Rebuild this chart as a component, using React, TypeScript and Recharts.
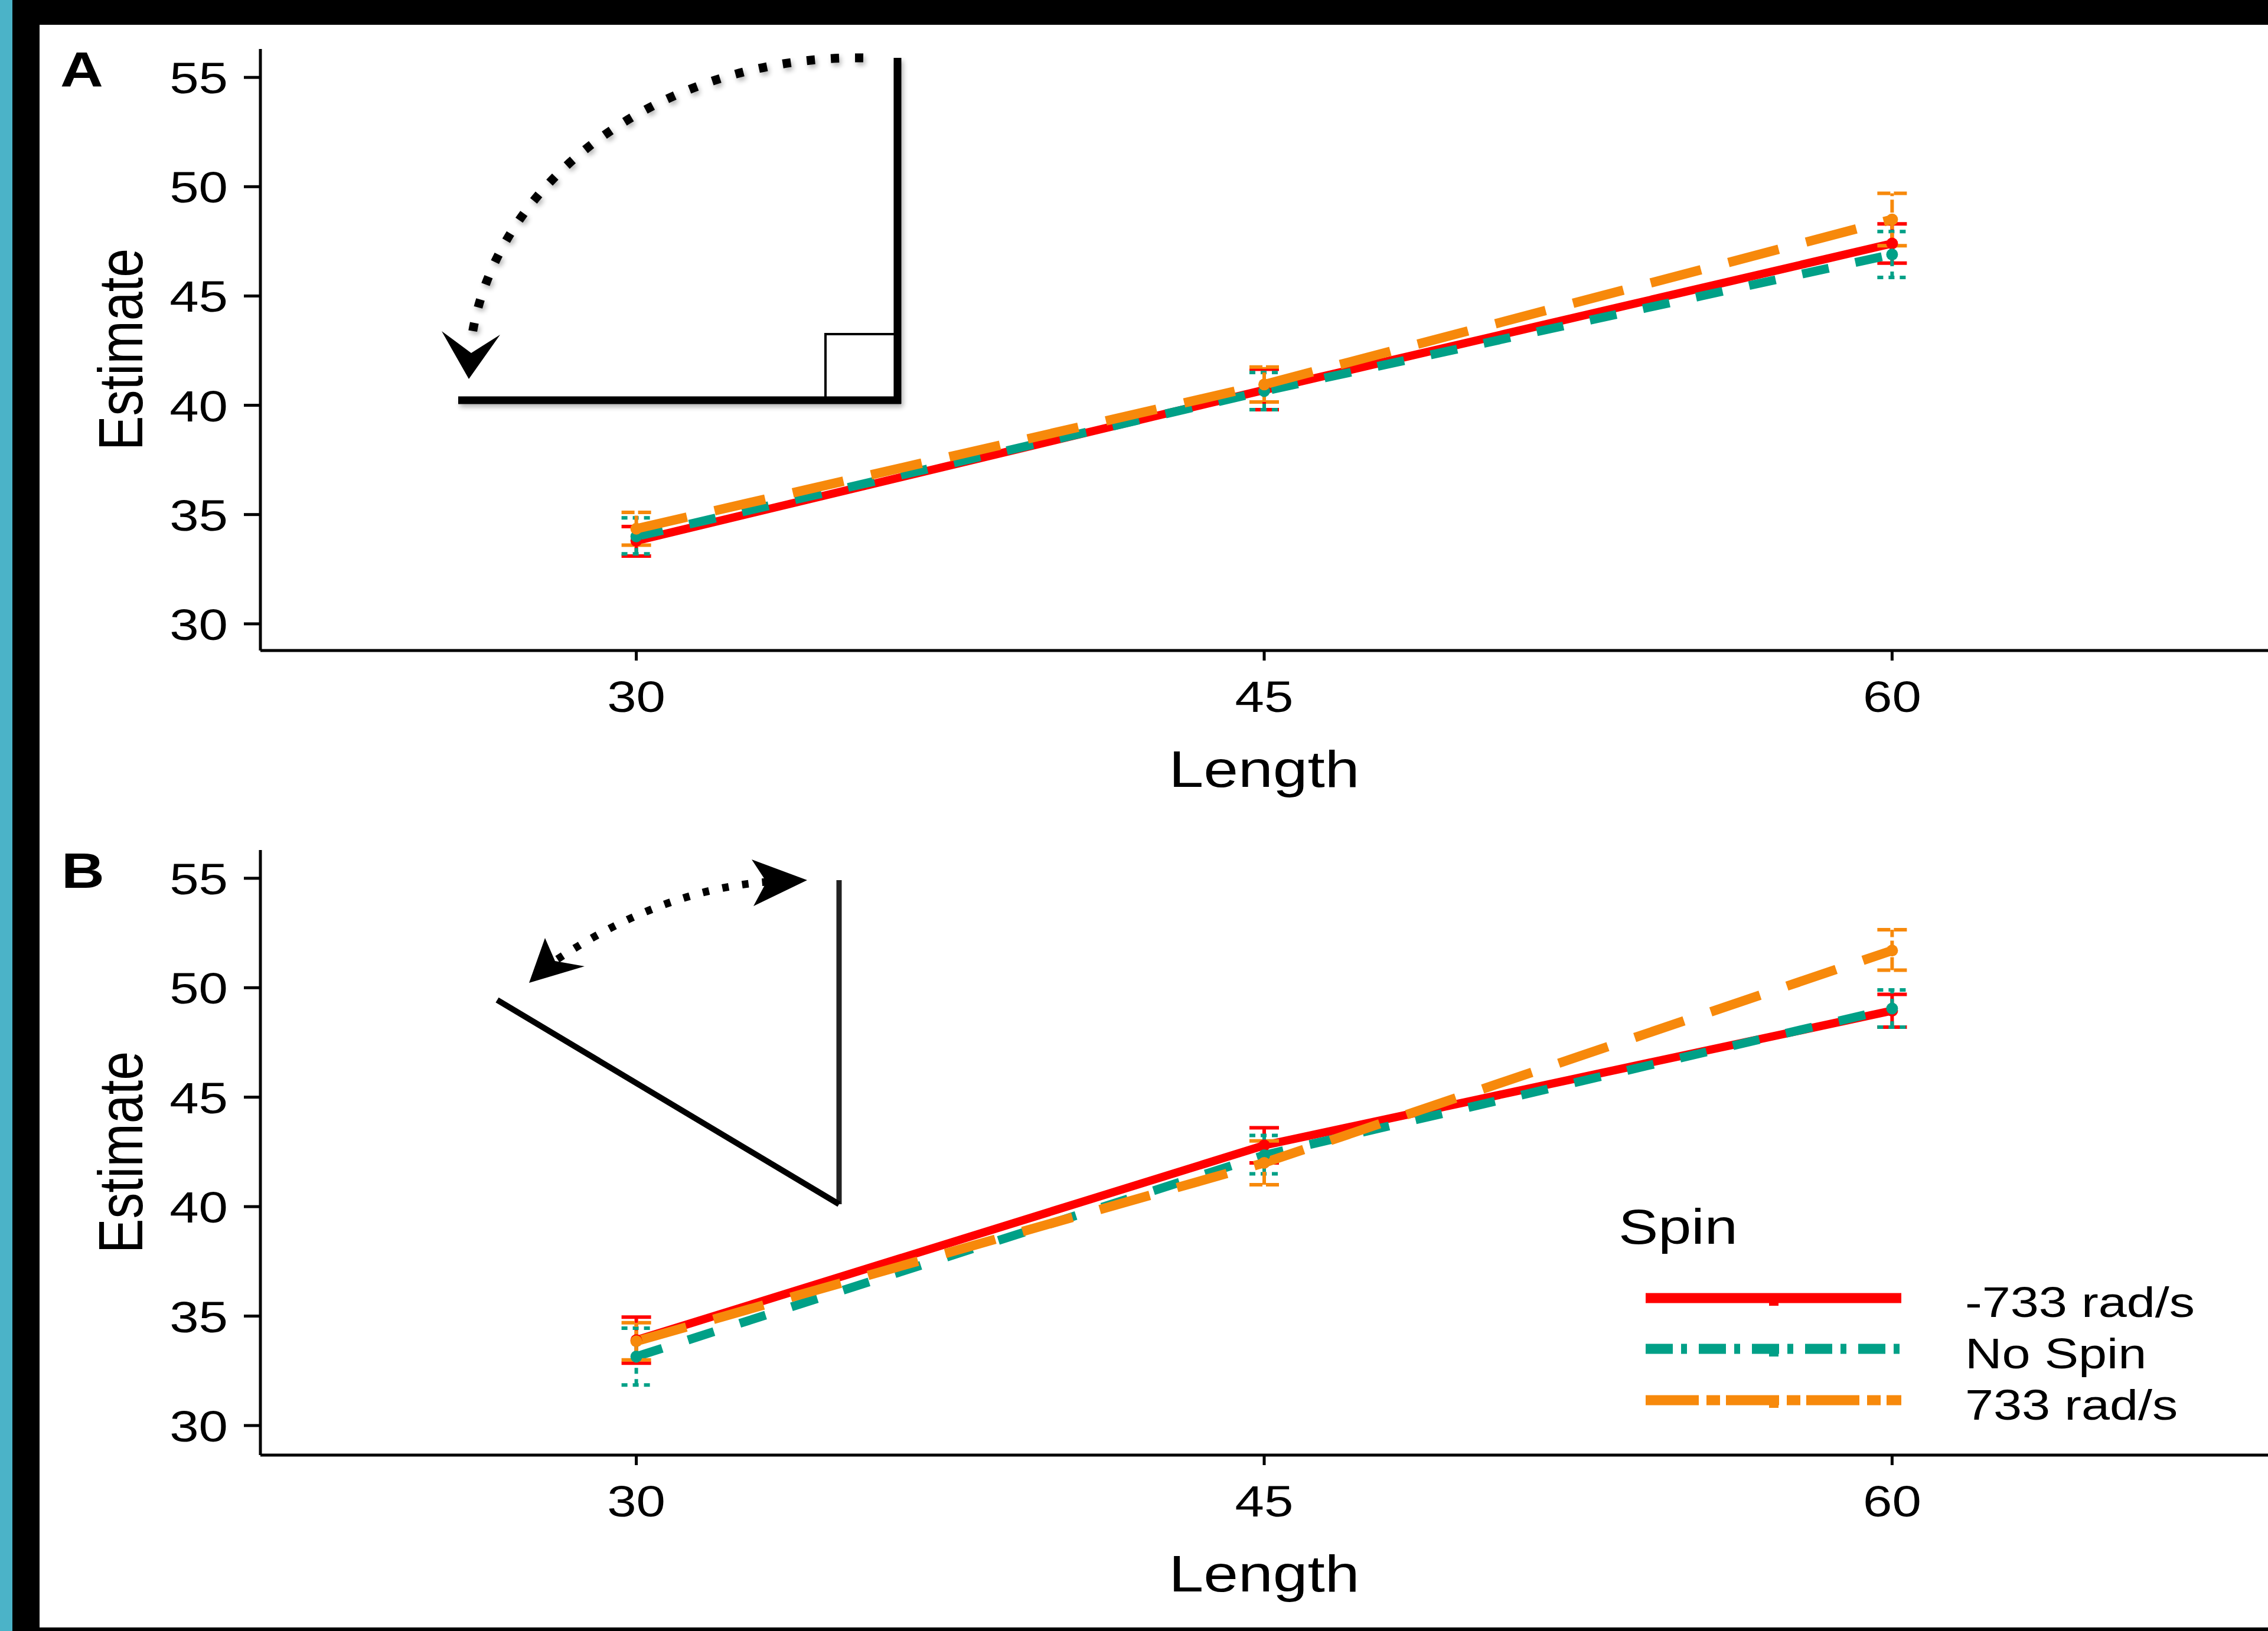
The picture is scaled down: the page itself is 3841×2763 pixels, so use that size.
import { ErrorBar, Line, LineChart, XAxis, YAxis } from 'recharts';

const FONT = '"Liberation Sans", Arial, Helvetica, sans-serif';
// the source figure is stretched sideways, so all text gets the same horizontal scale
const STRETCH = 1.2;
const W = 3841;
const H = 2763;

const lengths = [30, 45, 60];
const xTicks = [30, 45, 60];
const yTicks = [30, 35, 40, 45, 50, 55];
const spinLabels = ['-733 rad/s', 'No Spin', '733 rad/s'];

// Panel A (right angle): mean, lower and upper end of the error bar
const aNegMean = [33.8, 40.7, 47.4];
const aNegLow = [33.1, 39.8, 46.5];
const aNegHigh = [34.45, 41.65, 48.3];
const aNoneMean = [34.0, 40.65, 46.9];
const aNoneLow = [33.2, 39.8, 45.85];
const aNoneHigh = [34.85, 41.5, 47.95];
const aPosMean = [34.35, 40.95, 48.5];
const aPosLow = [33.6, 40.15, 47.3];
const aPosHigh = [35.1, 41.75, 49.7];

// Panel B (acute angle)
const bNegMean = [33.9, 42.8, 48.95];
const bNegLow = [32.85, 42.0, 48.2];
const bNegHigh = [34.95, 43.6, 49.7];
const bNoneMean = [33.15, 42.35, 49.05];
const bNoneLow = [31.85, 41.5, 48.2];
const bNoneHigh = [34.45, 43.25, 49.9];
const bPosMean = [33.85, 42.0, 51.7];
const bPosLow = [33.0, 41.0, 50.8];
const bPosHigh = [34.7, 43.0, 52.65];

type Band = [number[], number[], number[]];

function buildRows(neg: Band, none: Band, pos: Band) {
  const pick = (b: Band, i: number) => ({ v: b[0][i], err: [b[0][i] - b[1][i], b[2][i] - b[0][i]] });
  return lengths.map((length, i) => {
    const n = pick(neg, i);
    const z = pick(none, i);
    const p = pick(pos, i);
    return { length, neg: n.v, negErr: n.err, none: z.v, noneErr: z.err, pos: p.v, posErr: p.err };
  });
}

const rowsA = buildRows([aNegMean, aNegLow, aNegHigh], [aNoneMean, aNoneLow, aNoneHigh], [aPosMean, aPosLow, aPosHigh]);
const rowsB = buildRows([bNegMean, bNegLow, bNegHigh], [bNoneMean, bNoneLow, bNoneHigh], [bPosMean, bPosLow, bPosHigh]);

const SERIES = [
  { key: 'neg', color: '#ff0000', width: 14, dash: undefined, errDash: undefined, legendDash: undefined },
  { key: 'none', color: '#00a087', width: 15, dash: '46 46', errDash: '10 9', legendDash: '46 14 10 20' },
  { key: 'pos', color: '#f7890b', width: 16, dash: '88 48', errDash: '22 6', legendDash: '90 13 23 10' },
];

function XTick(props: any) {
  const { x, y, payload } = props;
  return (
    <text transform={`translate(${x},${y + 87}) scale(${STRETCH},1)`} textAnchor="middle" fontSize={74} fontFamily={FONT} fill="#000">
      {payload.value}
    </text>
  );
}

function YTick(props: any) {
  const { x, y, payload } = props;
  return (
    <text transform={`translate(${x},${y + 27}) scale(${STRETCH},1)`} textAnchor="end" fontSize={74} fontFamily={FONT} fill="#000">
      {payload.value}
    </text>
  );
}

function SText({ x, y, size, anchor = 'start', bold = false, children }: any) {
  return (
    <text transform={`translate(${x},${y}) scale(${STRETCH},1)`} textAnchor={anchor} fontSize={size} fontWeight={bold ? 'bold' : 'normal'} fontFamily={FONT} fill="#000">
      {children}
    </text>
  );
}

function YTitle({ cx, cy }: { cx: number; cy: number }) {
  return (
    <text transform={`translate(${cx},${cy}) scale(${STRETCH},1) rotate(-90)`} y={31} textAnchor="middle" fontSize={88} fontFamily={FONT} fill="#000">
      Estimate
    </text>
  );
}

interface PanelProps {
  rows: ReturnType<typeof buildRows>;
  top: number;
  plotTop: number;
  plotBottom: number;
  yDomain: [number, number];
}

const X_AXIS_H = 130;

function Panel({ rows, top, plotTop, plotBottom, yDomain }: PanelProps) {
  const height = plotBottom - top + X_AXIS_H;
  const axisStyle = { stroke: '#000', strokeWidth: 5 };
  return (
    <div style={{ position: 'absolute', left: 0, top }}>
      <LineChart width={W} height={height} data={rows} margin={{ top: plotTop - top, right: 0, bottom: 0, left: 0 }}>
        <XAxis
          type="number"
          dataKey="length"
          domain={[21.02, 68.98]}
          ticks={xTicks}
          interval={0}
          allowDataOverflow
          height={X_AXIS_H}
          tickSize={17}
          tickMargin={0}
          axisLine={axisStyle}
          tickLine={axisStyle}
          tick={<XTick />}
        />
        <YAxis
          type="number"
          domain={yDomain}
          ticks={yTicks}
          interval={0}
          allowDataOverflow
          width={441}
          tickSize={28}
          tickMargin={27}
          axisLine={axisStyle}
          tickLine={axisStyle}
          tick={<YTick />}
        />
        {SERIES.map((s) => (
          <Line
            key={s.key}
            type="linear"
            dataKey={s.key}
            stroke={s.color}
            strokeWidth={s.width}
            strokeDasharray={s.dash}
            dot={{ r: 10, fill: s.color, stroke: 'none', strokeWidth: 0, strokeDasharray: 'none' }}
            activeDot={false}
            isAnimationActive={false}
          >
            <ErrorBar
              dataKey={`${s.key}Err`}
              direction="y"
              width={25}
              stroke={s.color}
              strokeWidth={6}
              strokeDasharray={s.errDash}
              isAnimationActive={false}
            />
          </Line>
        ))}
      </LineChart>
    </div>
  );
}

// line drawings inside the panels (illustrations of the two angles)
const insetA = {
  arc: 'M 1462 98 A 660 542 0 0 0 797 585',
  head: '748,561 798,598 847,567 794,642',
};
const insetB = {
  arc: 'M 944 1625 Q 1121 1508 1298 1494',
  leftHead: '923,1589 940,1628 990,1637 896,1665',
  rightHead: '1273,1456 1298,1494 1276,1535 1367,1491',
};

const legendRows = [2199, 2285, 2372];
const legendTextY = [2231, 2318, 2405];

function Overlay() {
  return (
    <svg width={W} height={H} style={{ position: 'absolute', left: 0, top: 0, pointerEvents: 'none' }}>
      <defs>
        <filter id="soft" x="-10%" y="-10%" width="120%" height="120%">
          <feGaussianBlur stdDeviation="4" />
        </filter>
      </defs>
      {/* frame */}
      <rect x={21} y={0} width={W - 21} height={42} fill="#000" />
      <rect x={0} y={0} width={21} height={H} fill="#4bb3c8" />
      <rect x={21} y={0} width={46} height={H} fill="#000" />
      <rect x={21} y={H - 6} width={W - 21} height={6} fill="#000" />

      <SText x={102} y={147} size={84} bold>A</SText>
      <SText x={104} y={1504} size={84} bold>B</SText>
      <YTitle cx={204} cy={592} />
      <YTitle cx={204} cy={1952} />
      <SText x={2141} y={1333} size={88} anchor="middle">Length</SText>
      <SText x={2141} y={2696} size={88} anchor="middle">Length</SText>

      {/* inset A: right angle */}
      <g opacity={0.3} filter="url(#soft)" transform="translate(3,5)">
        <path d={insetA.arc} fill="none" stroke="#000" strokeWidth={15} strokeDasharray="14 27" />
        <line x1={776} y1={678} x2={1526} y2={678} stroke="#000" strokeWidth={13} />
        <line x1={1520} y1={98} x2={1520} y2={684} stroke="#000" strokeWidth={13} />
      </g>
      <path d={insetA.arc} fill="none" stroke="#000" strokeWidth={15} strokeDasharray="14 27" />
      <polygon points={insetA.head} fill="#000" />
      <rect x={1398} y={566} width={122} height={112} fill="none" stroke="#000" strokeWidth={4} />
      <line x1={776} y1={678} x2={1526} y2={678} stroke="#000" strokeWidth={13} />
      <line x1={1520} y1={98} x2={1520} y2={684} stroke="#000" strokeWidth={13} />

      {/* inset B: acute angle */}
      <path d={insetB.arc} fill="none" stroke="#000" strokeWidth={13} strokeDasharray="11 23" />
      <polygon points={insetB.leftHead} fill="#000" />
      <polygon points={insetB.rightHead} fill="#000" />
      <line x1={1421} y1={1491} x2={1421} y2={2040} stroke="#222" strokeWidth={9} />
      <line x1={842} y1={1694} x2={1421} y2={2040} stroke="#000" strokeWidth={10} />

      {/* legend */}
      <SText x={2741} y={2107} size={84}>Spin</SText>
      {SERIES.map((s, i) => (
        <g key={s.key}>
          <line x1={2787} y1={legendRows[i]} x2={3220} y2={legendRows[i]} stroke={s.color} strokeWidth={17} strokeDasharray={s.legendDash} />
          <rect x={2996} y={legendRows[i] + 8} width={16} height={5} fill={s.color} />
          <SText x={3328} y={legendTextY[i]} size={72}>{spinLabels[i]}</SText>
        </g>
      ))}
    </svg>
  );
}

export default function App() {
  return (
    <div style={{ position: 'absolute', left: 0, top: 0, width: W, height: H, overflow: 'hidden', background: '#fff' }}>
      <Panel rows={rowsA} top={0} plotTop={83} plotBottom={1102} yDomain={[28.78, 56.3]} />
      <Panel rows={rowsB} top={1357} plotTop={1440} plotBottom={2465} yDomain={[28.65, 56.29]} />
      <Overlay />
    </div>
  );
}
